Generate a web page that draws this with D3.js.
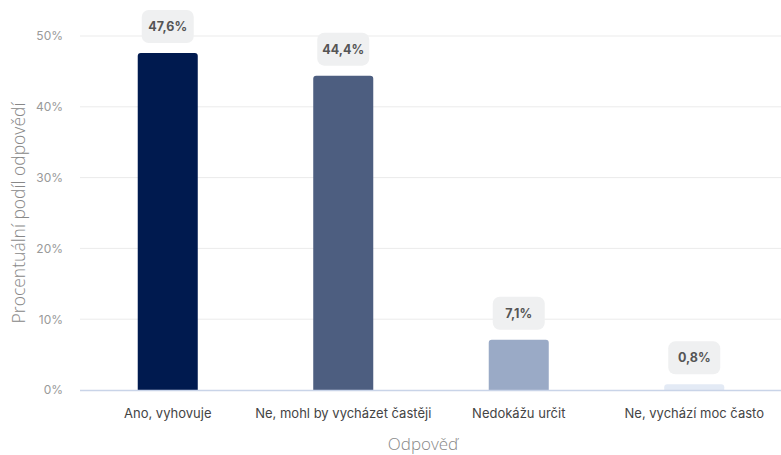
<!DOCTYPE html>
<html><head><meta charset="utf-8">
<script src="https://cdn.jsdelivr.net/npm/d3@7"></script>
<style>body{margin:0;background:#fff;font-family:Inter,"Open Sans",sans-serif}</style>
</head><body><svg id="c" width="781" height="455"></svg>
<script>
const categories = ["Ano, vyhovuje","Ne, mohl by vycházet častěji","Nedokážu určit","Ne, vychází moc často"];
const values = [47.6, 44.4, 7.1, 0.8];
const valueLabels = ["47,6%","44,4%","7,1%","0,8%"];
const yTicks = [0,10,20,30,40,50];
const colors = ["#001a4f","#4d5e80","#9aaac6","#e3eaf5"];

const svg = d3.select("#c");
const m = {l:80, r:781, t:36, b:390};
const x = d3.scaleBand().domain(categories).range([m.l, 782]).paddingInner(0.658).paddingOuter(0.329);
const y = d3.scaleLinear().domain([0,50]).range([m.b, m.t]);

// grid
svg.append("g").selectAll("line").data(yTicks.filter(d=>d>0)).join("line")
  .attr("x1", m.l).attr("x2", 781).attr("y1", d=>y(d)).attr("y2", d=>y(d))
  .attr("stroke","#ebebeb").attr("stroke-width",1);
// y tick labels
const yAxis = d3.axisLeft(y).tickValues(yTicks).tickFormat(d=>d+"%").tickSize(0).tickPadding(0);
const ya = svg.append("g").attr("transform",`translate(63,0)`).call(yAxis);
ya.select(".domain").remove();
ya.selectAll("text").attr("fill","#999").style("font-size","12px").style("font-family","Inter,sans-serif");

// bars
const bw = x.bandwidth();
svg.append("g").selectAll("path").data(values).join("path")
  .attr("fill",(d,i)=>colors[i])
  .attr("d",(d,i)=>{
    const x0 = x(categories[i]), y0 = y(d), h = y(0)-y(d), r = Math.min(3,h);
    return `M${x0},${y(0)}V${y0+r}Q${x0},${y0} ${x0+r},${y0}H${x0+bw-r}Q${x0+bw},${y0} ${x0+bw},${y0+r}V${y(0)}Z`;
  });

// baseline
svg.append("line").attr("x1",m.l).attr("x2",781).attr("y1",y(0)+0.5).attr("y2",y(0)+0.5)
  .attr("stroke","#c9d4e8").attr("stroke-width",1.5);

// value labels
const lg = svg.append("g").selectAll("g").data(values).join("g")
  .attr("transform",(d,i)=>`translate(${x(categories[i])+bw/2},${y(d)-10})`);
lg.append("rect").attr("x",-26).attr("y",-33).attr("width",52).attr("height",33).attr("rx",7)
  .attr("fill","#eff0f1");
lg.append("text").attr("y",-16.5).attr("dy","0.35em").attr("text-anchor","middle")
  .attr("fill","#555").style("font-size","12.5px").style("font-weight","700")
  .text((d,i)=>valueLabels[i]);

// x labels
const xAxis = d3.axisBottom(x).tickSize(0).tickPadding(0);
const xa = svg.append("g").attr("transform",`translate(0,413)`).call(xAxis);
xa.select(".domain").remove();
xa.selectAll("text").attr("fill","#444").attr("dy","0.35em").attr("y",0).style("font-size","13px").style("font-family","Inter,sans-serif");

// axis titles
svg.append("text").attr("x",423).attr("y",444).attr("dy","0.35em").attr("text-anchor","middle")
  .attr("fill","#888").style("font-family","'Open Sans',sans-serif").style("font-weight","300").style("font-size","17px").text("Odpověď");
svg.append("text").attr("transform","translate(19,213) rotate(-90)").attr("dy","0.35em").attr("text-anchor","middle")
  .attr("fill","#888").style("font-family","'Open Sans',sans-serif").style("font-weight","300").style("font-size","17.5px").text("Procentuální podíl odpovědí");
</script></body></html>
